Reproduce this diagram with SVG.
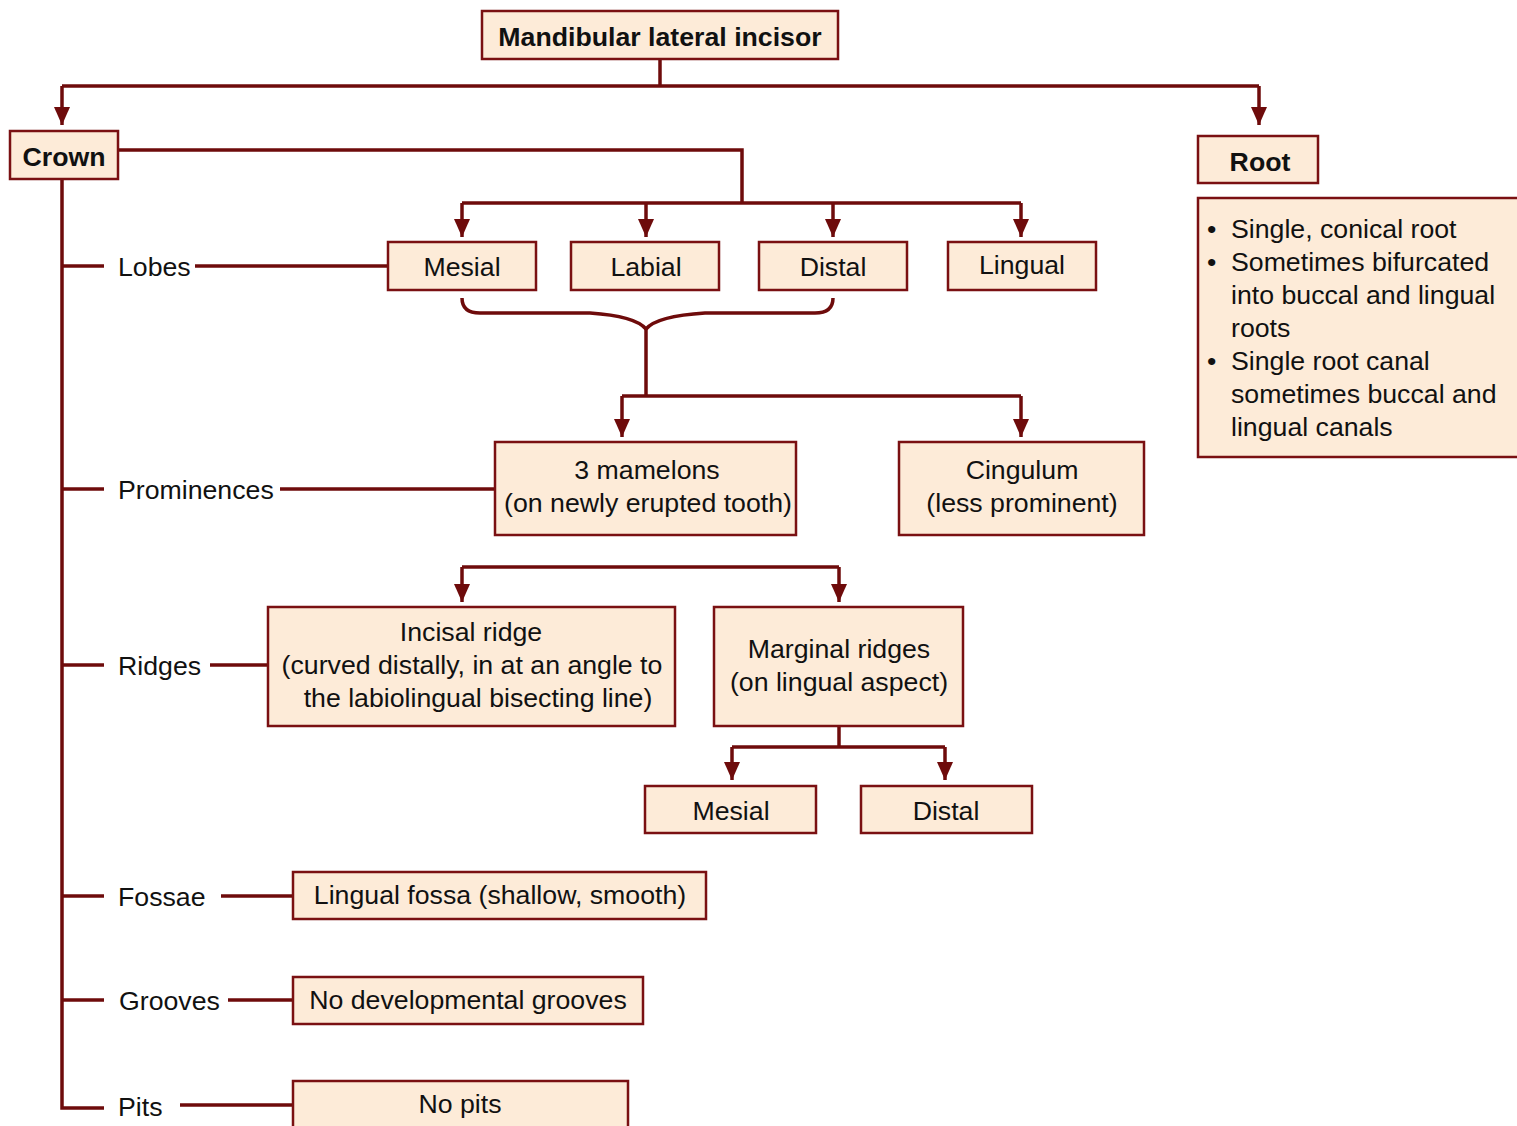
<svg xmlns="http://www.w3.org/2000/svg" width="1517" height="1126" viewBox="0 0 1517 1126">
<style>
.box{fill:#fdebd8;stroke:#7a1012;stroke-width:2.5}
.t{font-family:"Liberation Sans",Arial,sans-serif;font-size:26.7px;fill:#111}
.c{text-anchor:middle}
.b{font-weight:bold}
.ln{fill:none;stroke:#6e0b0b;stroke-width:3.5}
.ar{fill:none;stroke:#6e0b0b;stroke-width:3.5;marker-end:url(#ah)}
</style>
<defs>
<marker id="ah" markerUnits="userSpaceOnUse" markerWidth="19" markerHeight="18" refX="18" refY="9" orient="auto">
<path d="M0,1 L18,9 L0,17 z" fill="#6e0b0b"/>
</marker>
</defs>
<rect width="1517" height="1126" fill="#ffffff"/>
<g id="connectors">
<path class="ln" d="M660,59 V86"/>
<path class="ln" d="M62,86 H1259"/>
<path class="ar" d="M62,86 V125"/>
<path class="ar" d="M1259,86 V125"/>
<path class="ln" d="M118,150 H742 V203"/>
<path class="ln" d="M462,203 H1021"/>
<path class="ar" d="M462,203 V237"/>
<path class="ar" d="M646,203 V237"/>
<path class="ar" d="M833,203 V237"/>
<path class="ar" d="M1021,203 V237"/>
<path class="ln" d="M62,179 V1108 H104"/>
<path class="ln" d="M62,266 H104"/>
<path class="ln" d="M62,489 H104"/>
<path class="ln" d="M62,665 H104"/>
<path class="ln" d="M62,896 H104"/>
<path class="ln" d="M62,1000 H104"/>
<path class="ln" d="M195,266 H388"/>
<path class="ln" d="M280,489 H495"/>
<path class="ln" d="M210,665 H268"/>
<path class="ln" d="M221,896 H293"/>
<path class="ln" d="M228,1000 H293"/>
<path class="ln" d="M180,1105 H293"/>
<path class="ln" d="M462,298 Q462,313 480,313 L590,313 Q635,316 646,329"/>
<path class="ln" d="M833,298 Q833,313 815,313 L705,313 Q657,316 646,329"/>
<path class="ln" d="M646,328 V396"/>
<path class="ln" d="M622,396 H1021"/>
<path class="ar" d="M622,396 V437"/>
<path class="ar" d="M1021,396 V437"/>
<path class="ln" d="M462,567 H839"/>
<path class="ar" d="M462,567 V602"/>
<path class="ar" d="M839,567 V602"/>
<path class="ln" d="M839,726 V747"/>
<path class="ln" d="M732,747 H945"/>
<path class="ar" d="M732,747 V780"/>
<path class="ar" d="M945,747 V780"/>
</g>
<g id="labels">
<text class="t" x="118" y="276">Lobes</text>
<text class="t" x="118" y="499">Prominences</text>
<text class="t" x="118" y="675">Ridges</text>
<text class="t" x="118" y="906">Fossae</text>
<text class="t" x="119" y="1010">Grooves</text>
<text class="t" x="118" y="1116">Pits</text>
</g>
<g id="n-top"><rect class="box" x="482" y="11" width="356" height="48"/><text class="t c b" x="660" y="46">Mandibular lateral incisor</text></g>
<g id="n-crown"><rect class="box" x="10" y="131" width="108" height="48"/><text class="t c b" x="64" y="166">Crown</text></g>
<g id="n-root"><rect class="box" x="1198" y="136" width="120" height="47"/><text class="t c b" x="1260" y="171">Root</text></g>
<g id="n-rootinfo"><rect class="box" x="1198" y="198" width="330" height="259"/>
<text class="t" x="1207" y="238">•</text><text class="t" x="1231" y="238">Single, conical root</text>
<text class="t" x="1207" y="271">•</text><text class="t" x="1231" y="271">Sometimes bifurcated</text>
<text class="t" x="1231" y="304">into buccal and lingual</text>
<text class="t" x="1231" y="337">roots</text>
<text class="t" x="1207" y="370">•</text><text class="t" x="1231" y="370">Single root canal</text>
<text class="t" x="1231" y="403">sometimes buccal and</text>
<text class="t" x="1231" y="436">lingual canals</text>
</g>
<g id="n-mesial"><rect class="box" x="388" y="242" width="148" height="48"/><text class="t c" x="462" y="276">Mesial</text></g>
<g id="n-labial"><rect class="box" x="571" y="242" width="148" height="48"/><text class="t c" x="646" y="276">Labial</text></g>
<g id="n-distal"><rect class="box" x="759" y="242" width="148" height="48"/><text class="t c" x="833" y="276">Distal</text></g>
<g id="n-lingual"><rect class="box" x="948" y="242" width="148" height="48"/><text class="t c" x="1022" y="274">Lingual</text></g>
<g id="n-mamelons"><rect class="box" x="495" y="442" width="301" height="93"/><text class="t c" x="647" y="479">3 mamelons</text><text class="t c" x="648" y="512">(on newly erupted tooth)</text></g>
<g id="n-cingulum"><rect class="box" x="899" y="442" width="245" height="93"/><text class="t c" x="1022" y="479">Cingulum</text><text class="t c" x="1022" y="512">(less prominent)</text></g>
<g id="n-incisal"><rect class="box" x="268" y="607" width="407" height="119"/><text class="t c" x="471" y="641">Incisal ridge</text><text class="t c" x="472" y="674">(curved distally, in at an angle to</text><text class="t c" x="478" y="707">the labiolingual bisecting line)</text></g>
<g id="n-marginal"><rect class="box" x="714" y="607" width="249" height="119"/><text class="t c" x="839" y="658">Marginal ridges</text><text class="t c" x="839" y="691">(on lingual aspect)</text></g>
<g id="n-mmesial"><rect class="box" x="645" y="786" width="171" height="47"/><text class="t c" x="731" y="820">Mesial</text></g>
<g id="n-mdistal"><rect class="box" x="861" y="786" width="171" height="47"/><text class="t c" x="946" y="820">Distal</text></g>
<g id="n-fossa"><rect class="box" x="293" y="872" width="413" height="47"/><text class="t c" x="500" y="904">Lingual fossa (shallow, smooth)</text></g>
<g id="n-grooves"><rect class="box" x="293" y="977" width="350" height="47"/><text class="t c" x="468" y="1009">No developmental grooves</text></g>
<g id="n-pits"><rect class="box" x="293" y="1081" width="335" height="55"/><text class="t c" x="460" y="1113">No pits</text></g>
</svg>
